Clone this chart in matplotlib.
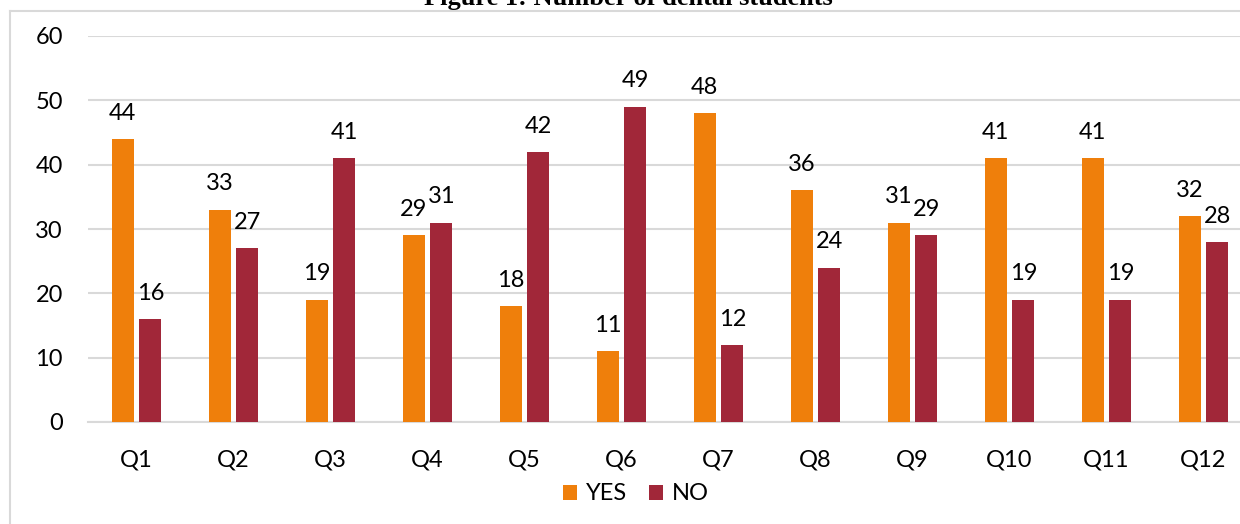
import matplotlib
matplotlib.use("Agg")
from matplotlib import pyplot as plt
from matplotlib.lines import Line2D
import numpy as np

categories = ["Q1", "Q2", "Q3", "Q4", "Q5", "Q6", "Q7", "Q8", "Q9", "Q10", "Q11", "Q12"]
yes_vals = [44, 33, 19, 29, 18, 11, 48, 36, 31, 41, 41, 32]
no_vals = [16, 27, 41, 31, 42, 49, 12, 24, 29, 19, 19, 28]

plt.rcParams['font.family'] = ['Lato', 'DejaVu Sans']

fig = plt.figure(figsize=(12.4, 5.24), dpi=100)
ax = fig.add_axes([88 / 1240, 1 - 422 / 524, 1164 / 1240, 386 / 524])

x = np.arange(len(categories))
w = 0.225
gap = 0.03
b1 = ax.bar(x - w / 2 - gap, yes_vals, width=w, color='#EF7F0B', label='YES', zorder=3)
b2 = ax.bar(x + w / 2 + gap, no_vals, width=w, color='#A12739', label='NO', zorder=3)
ax.bar_label(b1, padding=11, fontsize=17)
ax.bar_label(b2, padding=11, fontsize=17)

ax.set_xlim(-0.5, len(categories) - 0.5)
ax.set_ylim(0, 60)
ax.set_yticks(range(0, 61, 10))
ax.set_xticks(x)
ax.set_xticklabels(categories)
ax.tick_params(axis='both', length=0, labelsize=17)
ax.tick_params(axis='x', pad=20)
ax.tick_params(axis='y', pad=18)
ax.grid(axis='y', color='#D9D9D9', linewidth=1.5, zorder=0)
for s in ['top', 'right', 'left']:
    ax.spines[s].set_visible(False)
ax.spines['bottom'].set_color('#D9D9D9')
ax.spines['bottom'].set_linewidth(1.5)

leg = fig.legend(handles=[b1, b2], loc='center', bbox_to_anchor=(636 / 1240, 1 - 494 / 524),
                 ncol=2, frameon=False, fontsize=17, handlelength=0.6, handleheight=0.6,
                 handletextpad=0.4, columnspacing=0.9)

# chart frame (left and top edges visible)
fig.add_artist(Line2D([10 / 1240, 10 / 1240], [0, 1 - 11 / 524], color='#D9D9D9', linewidth=1.5))
fig.add_artist(Line2D([10 / 1240, 1], [1 - 11 / 524, 1 - 11 / 524], color='#D9D9D9', linewidth=1.5))

fig.text(628 / 1240, 1 - 5 / 524, "Figure 1: Number of dental students", ha='center', va='baseline',
         family='Liberation Serif', fontweight='bold', fontsize=19)

fig.savefig('out.png', dpi=100)
